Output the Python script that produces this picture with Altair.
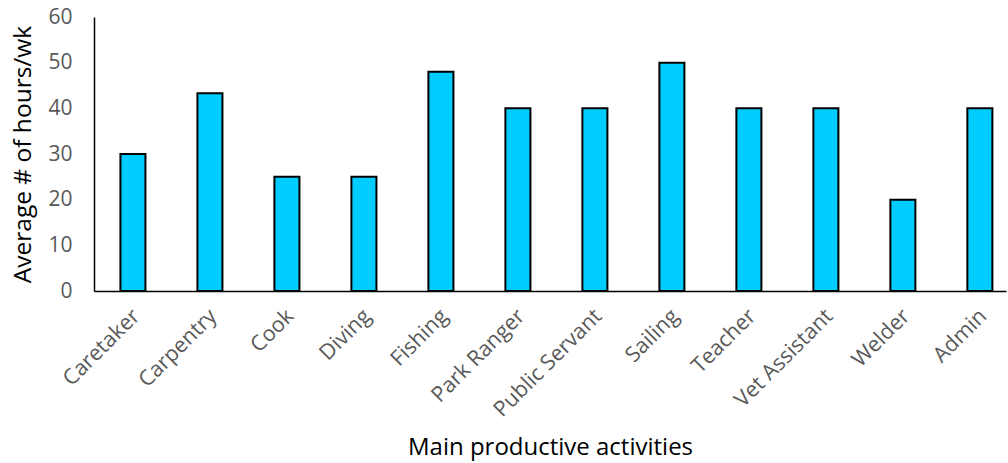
import altair as alt
import pandas as pd

categories = ["Caretaker", "Carpentry", "Cook", "Diving", "Fishing", "Park Ranger",
              "Public Servant", "Sailing", "Teacher", "Vet Assistant", "Welder", "Admin"]
hours = [30, 43.3, 25, 25, 48, 40, 40, 50, 40, 40, 20, 40]
y_ticks = [0, 10, 20, 30, 40, 50, 60]

df = pd.DataFrame({"activity": categories, "hours": hours})

FONT = "Open Sans"

chart = alt.Chart(df).mark_bar(
    color="#00CCFF", stroke="black", strokeWidth=2
).encode(
    x=alt.X("activity:N", sort=categories,
            scale=alt.Scale(paddingInner=0.675, paddingOuter=0.26, align=0.66),
            axis=alt.Axis(title="Main productive activities", labelAngle=-45,
                          labelFontSize=21.5, labelColor="#595959", labelFont=FONT,
                          titleFont=FONT, titleFontSize=24, titleColor="black",
                          titleFontWeight="normal", titlePadding=15,
                          domainColor="black", domainWidth=1.5, ticks=False,
                          labelPadding=14, labelOffset=-4)),
    y=alt.Y("hours:Q", scale=alt.Scale(domain=[0, 60], nice=False),
            axis=alt.Axis(title="Average # of hours/wk", values=y_ticks, grid=False,
                          labelFontSize=21, labelColor="#595959", labelFont=FONT,
                          titleFont=FONT, titleFontSize=24.5, titleColor="black",
                          titleFontWeight="normal", titlePadding=12,
                          domainColor="black", domainWidth=1.5, ticks=False,
                          labelPadding=22)),
).properties(
    width=912, height=274,
    padding={"left": 94, "top": 17, "right": 2, "bottom": 172},
    autosize=alt.AutoSizeParams(type="none"),
).configure_view(stroke=None)

chart.save("out.html", embed_options={"renderer": "svg", "actions": False})
